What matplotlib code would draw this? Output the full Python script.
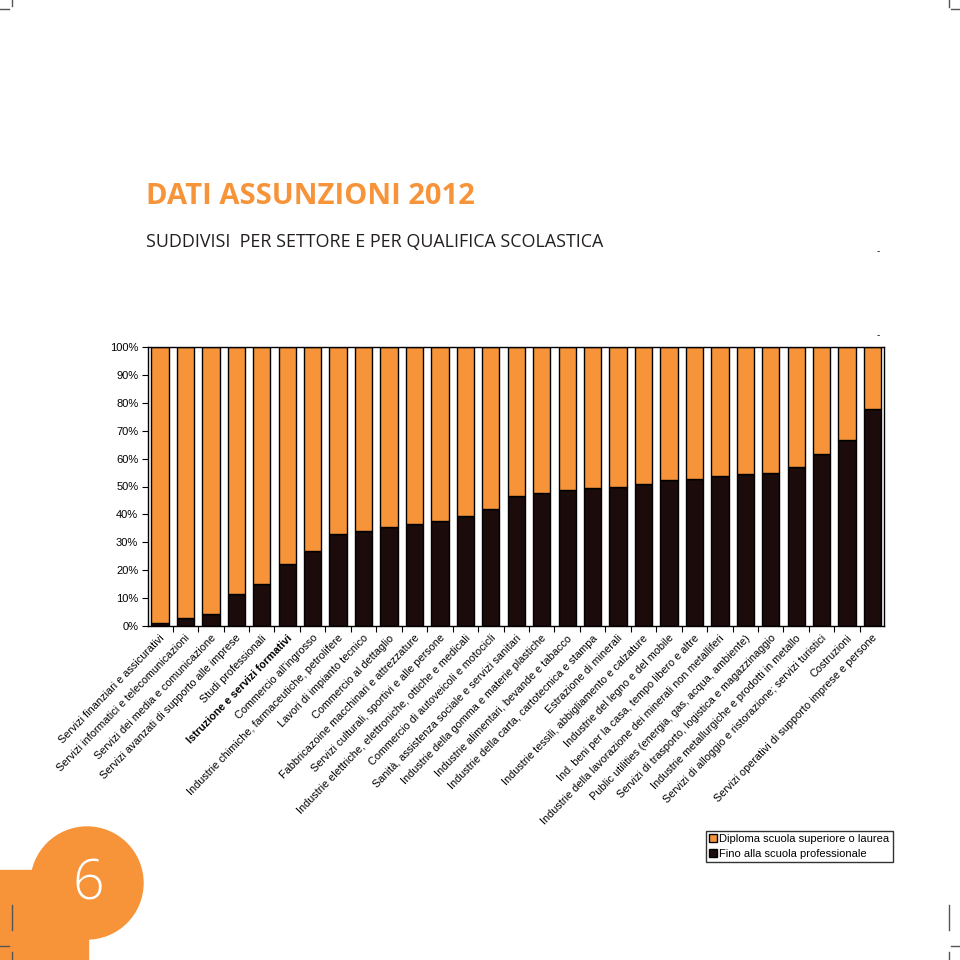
import matplotlib
matplotlib.use("Agg")
import matplotlib.pyplot as plt
from matplotlib.patches import Circle, Rectangle
from matplotlib.ticker import FixedLocator, PercentFormatter
from matplotlib.lines import Line2D

plt.rcParams['font.family'] = ['Liberation Sans', 'DejaVu Sans']

settori = [
    "Servizi finanziari e assicurativi",
    "Servizi informatici e telecomunicazioni",
    "Servizi dei media e comunicazione",
    "Servizi avanzati di supporto alle imprese",
    "Studi professionali",
    "Istruzione e servizi formativi",
    "Commercio all'ingrosso",
    "Industrie chimiche, farmaceutiche, petrolifere",
    "Lavori di impianto tecnico",
    "Commercio al dettaglio",
    "Fabbricazoine macchinari e attrezzature",
    "Servizi culturali, sportivi e alle persone",
    "Industrie elettriche, elettroniche, ottiche e medicali",
    "Commercio di autoveicoli e motocicli",
    "Sanità, assistenza sociale e servizi sanitari",
    "Industrie della gomma e materie plastiche",
    "Industrie alimentari, bevande e tabacco",
    "Industrie della carta, cartotecnica e stampa",
    "Estrazione di minerali",
    "Industrie tessili, abbigliamento e calzature",
    "Industrie del legno e del mobile",
    "Ind. beni per la casa, tempo libero e altre",
    "Industrie della lavorazione dei minerali non metalliferi",
    "Public utilities (energia, gas, acqua, ambiente)",
    "Servizi di trasporto, logistica e magazzinaggio",
    "Industrie metallurgiche e prodotti in metallo",
    "Servizi di alloggio e ristorazione; servizi turistici",
    "Costruzioni",
    "Servizi operativi di supporto imprese e persone",
]

# quota % "Fino alla scuola professionale" (parte nera)
fino_professionale = [1.2, 3.0, 4.2, 11.5, 15.0, 22.2, 27.0, 33.0, 34.0, 35.5,
                      36.5, 37.7, 39.4, 42.0, 46.6, 47.6, 48.8, 49.6, 49.9, 51.0,
                      52.3, 52.7, 53.6, 54.5, 54.8, 57.0, 61.6, 66.6, 77.8]
diploma_laurea = [100 - v for v in fino_professionale]

orange = '#F7943A'
dark = '#1C0B0B'

fig = plt.figure(figsize=(9.6, 9.6), dpi=100)
ax = fig.add_axes([148/960, 1 - 626/960, 736/960, 279/960])

x = range(len(settori))
b1 = ax.bar(x, fino_professionale, width=0.68, color=dark, edgecolor='black', linewidth=1)
b2 = ax.bar(x, diploma_laurea, width=0.68, bottom=fino_professionale, color=orange,
            edgecolor='black', linewidth=1)

ax.set_xlim(-0.47, 28.45)
ax.set_ylim(0, 100)
ax.set_yticks(range(0, 101, 10))
ax.yaxis.set_major_formatter(PercentFormatter(decimals=0))
ax.tick_params(axis='y', labelsize=8, length=4, direction='out', pad=3)

ax.xaxis.set_major_locator(FixedLocator([i - 0.5 for i in range(len(settori) + 1)]))
ax.set_xticklabels([])
ax.tick_params(axis='x', length=4, direction='out')
for s in ax.spines.values():
    s.set_linewidth(1)

for i, lab in enumerate(settori):
    ax.text(i - 0.02, -2.5, lab, rotation=46, ha='right', va='top', rotation_mode='anchor',
            fontsize=7.8, fontweight='bold' if i == 5 else 'normal',
            transform=ax.transData, clip_on=False)

# legenda
fig.legend([b2, b1], ["Diploma scuola superiore o laurea", "Fino alla scuola professionale"],
           loc='upper left', bbox_to_anchor=(700/960, 1 - 825/960), fontsize=8,
           frameon=True, fancybox=False, edgecolor='black', handlelength=0.7,
           handleheight=0.7, handletextpad=0.25, borderpad=0.3, labelspacing=0.45)
fig.legends[0].get_frame().set_linewidth(1)

# titoli
fig.text(146/960, 1 - 197/960, "DATI ASSUNZIONI 2012", color=orange, fontsize=21,
         fontweight='bold', family='Open Sans', va='center', ha='left')
fig.text(146/960, 1 - 242/960, "SUDDIVISI  PER SETTORE E PER QUALIFICA SCOLASTICA",
         color='#231F20', fontsize=12.9, family='Open Sans', va='center', ha='left')
fig.text(878/960, 1 - 251/960, "-", fontsize=7, ha='center', va='center')
fig.text(878/960, 1 - 335/960, "-", fontsize=7, ha='center', va='center')

# badge pagina
fig.patches.append(Circle((87/960, 1 - 883/960), 56/960, transform=fig.transFigure,
                          color=orange, zorder=0))
fig.patches.append(Rectangle((0, 0), 88/960, 90/960, transform=fig.transFigure,
                             color=orange, zorder=0))
fig.text(88/960, 1 - 885/960, "6", color='white', fontsize=40, family='Open Sans',
         fontweight='light', ha='center', va='center')

# segni di taglio
gray = '#555555'
for xs, ys in [((0, 9), (9, 9)), ((12, 12), (0, 6)), ((951, 960), (9, 9)), ((949, 949), (0, 7)),
               ((0, 9), (946, 946)), ((12, 12), (952, 960)), ((951, 960), (946, 946)),
               ((949, 949), (952, 960)), ((12, 12), (905, 930)), ((949, 949), (905, 930))]:
    fig.add_artist(Line2D([v/960 for v in xs], [1 - v/960 for v in ys], color=gray, lw=1))

fig.savefig('out.png', dpi=100)
